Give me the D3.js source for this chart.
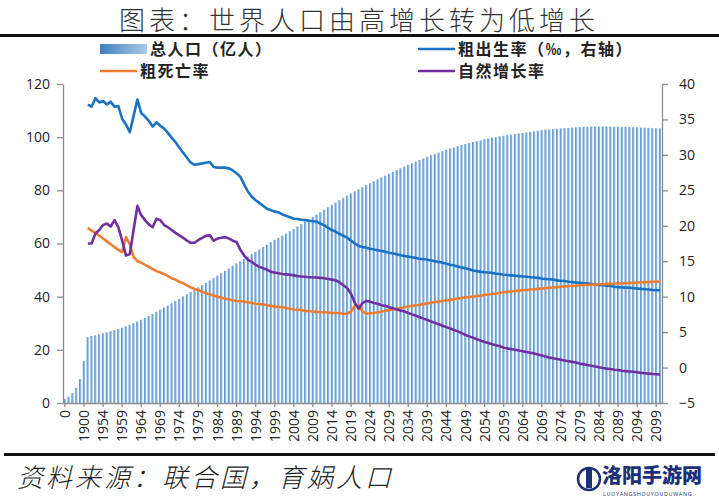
<!DOCTYPE html>
<html><head><meta charset="utf-8">
<script src="https://cdn.jsdelivr.net/npm/d3@7/dist/d3.min.js"></script>
<style>
html,body{margin:0;padding:0;background:#fff;}
svg{display:block;}
</style></head>
<body>
<svg id="c" width="719" height="500"></svg>
<script>
// ---------------- DATA ----------------
const earlyCategories = ["0","1000","1500","1700","1800","1900"];
const years = d3.range(1950, 2101).map(String);
const categories = earlyCategories.concat(years);

// 总人口（亿人）— one value per category
const population = [
  1.5, 2.4, 3.75, 5.7, 9.0, 15.8,
  24.8, 25.2, 25.5, 25.9, 26.3, 26.6, 27.0, 27.4, 27.8, 28.3,
  28.8, 29.4, 30.0, 30.6, 31.3, 32.0, 32.8, 33.5, 34.3, 35.1,
  35.9, 36.6, 37.5, 38.4, 39.2, 40.1, 40.9, 41.8, 42.6, 43.5,
  44.3, 45.2, 46.1, 47.0, 47.9, 48.8, 49.7, 50.6, 51.6, 52.5,
  53.3, 54.2, 55.1, 56.0, 56.9, 57.8, 58.7, 59.6, 60.5, 61.3,
  62.1, 62.9, 63.7, 64.6, 65.5, 66.4, 67.3, 68.2, 69.1, 70.0,
  70.9, 71.8, 72.7, 73.6, 74.5, 75.4, 76.3, 77.2, 78.0, 78.8,
  79.6, 80.4, 81.2, 82.0, 82.7, 83.4, 84.1, 84.8, 85.5, 86.2,
  86.9, 87.6, 88.3, 88.9, 89.6, 90.2, 90.8, 91.4, 92.0, 92.6,
  93.2, 93.7, 94.2, 94.7, 95.2, 95.7, 96.1, 96.6, 97.0, 97.4,
  97.8, 98.2, 98.5, 98.8, 99.2, 99.5, 99.8, 100.0, 100.3, 100.5,
  100.8, 101.0, 101.2, 101.4, 101.6, 101.8, 102.0, 102.2, 102.4, 102.6,
  102.8, 102.9, 103.1, 103.2, 103.3, 103.4, 103.5, 103.6, 103.7, 103.8,
  103.9, 103.95, 104.0, 104.0, 104.05, 104.05, 104.05, 104.0, 104.0, 103.95,
  103.9, 103.85, 103.8, 103.75, 103.7, 103.6, 103.55, 103.5, 103.4, 103.35,
  103.3
];

// 粗出生率（‰）1950–2100
const birthRate = [
  37.1, 36.8, 38.0, 37.4, 37.6, 37.1, 37.5, 36.8, 36.9, 35.1,
  34.3, 33.2, 35.5, 37.8, 35.9, 35.4, 34.8, 34.0, 34.6, 34.1,
  33.7, 33.1, 32.4, 31.8, 31.0, 30.3, 29.6, 28.9, 28.6, 28.7,
  28.8, 28.9, 29.0, 28.3, 28.2, 28.2, 28.2, 28.1, 27.8, 27.4,
  26.9, 25.8, 24.8, 24.1, 23.6, 23.2, 22.8, 22.4, 22.2, 22.0,
  21.9, 21.6, 21.4, 21.2, 21.0, 20.95, 20.85, 20.8, 20.7, 20.65,
  20.6, 20.3, 20.05, 19.7, 19.4, 19.15, 18.85, 18.6, 18.3, 17.9,
  17.5, 17.15, 17.0, 16.9, 16.75, 16.65, 16.55, 16.45, 16.35, 16.2,
  16.1, 16.0, 15.85, 15.75, 15.65, 15.55, 15.45, 15.35, 15.3, 15.2,
  15.1, 15.0, 14.9, 14.8, 14.65, 14.5, 14.4, 14.25, 14.1, 14.0,
  13.85, 13.7, 13.6, 13.5, 13.45, 13.4, 13.35, 13.25, 13.2, 13.1,
  13.05, 13.0, 12.95, 12.9, 12.85, 12.8, 12.75, 12.7, 12.65, 12.55,
  12.5, 12.45, 12.4, 12.3, 12.25, 12.2, 12.1, 12.05, 12.0, 11.95,
  11.9, 11.85, 11.8, 11.7, 11.65, 11.6, 11.55, 11.5, 11.4, 11.35,
  11.3, 11.28, 11.25, 11.2, 11.15, 11.1, 11.05, 11.0, 10.95, 10.9,
  10.9
];

// 粗死亡率（‰）1950–2100
const deathRate = [
  19.7, 19.3, 19.0, 18.6, 18.2, 17.8, 17.4, 17.0, 16.6, 16.3,
  18.4, 17.4, 15.6, 15.0, 14.8, 14.5, 14.2, 13.9, 13.6, 13.4,
  13.2, 12.9, 12.6, 12.4, 12.1, 11.9, 11.6, 11.3, 11.1, 10.9,
  10.7, 10.5, 10.3, 10.15, 10.0, 9.85, 9.7, 9.6, 9.5, 9.4,
  9.35, 9.3, 9.2, 9.1, 9.0, 8.95, 8.9, 8.8, 8.7, 8.6,
  8.55, 8.5, 8.4, 8.3, 8.2, 8.15, 8.1, 8.0, 7.95, 7.9,
  7.85, 7.8, 7.8, 7.75, 7.7, 7.7, 7.65, 7.6, 7.6, 7.9,
  8.7, 8.8, 7.9, 7.6, 7.65, 7.7, 7.8, 7.9, 8.0, 8.1,
  8.2, 8.3, 8.4, 8.5, 8.6, 8.7, 8.8, 8.85, 8.95, 9.05,
  9.15, 9.25, 9.3, 9.4, 9.5, 9.55, 9.65, 9.75, 9.8, 9.9,
  9.95, 10.0, 10.1, 10.15, 10.25, 10.3, 10.4, 10.45, 10.55, 10.6,
  10.7, 10.75, 10.8, 10.85, 10.9, 10.95, 11.0, 11.05, 11.1, 11.15,
  11.2, 11.25, 11.3, 11.35, 11.4, 11.45, 11.5, 11.5, 11.55, 11.6,
  11.65, 11.65, 11.7, 11.7, 11.75, 11.75, 11.8, 11.8, 11.85, 11.85,
  11.9, 11.9, 11.95, 11.95, 12.0, 12.0, 12.05, 12.05, 12.1, 12.1,
  12.15
];

// 自然增长率（‰）1950–2100
const growthRate = [
  17.5, 17.5, 18.9, 19.4, 20.1, 20.3, 19.9, 20.8, 19.8, 17.9,
  15.8, 16.0, 19.4, 22.8, 21.5, 20.8, 20.2, 19.8, 21.0, 20.8,
  20.1, 19.8, 19.4, 19.0, 18.65, 18.3, 17.9, 17.6, 17.6, 18.0,
  18.3, 18.6, 18.65, 17.9, 18.2, 18.3, 18.4, 18.2, 17.9, 17.7,
  16.6, 15.8, 15.2, 14.9, 14.5, 14.2, 14.0, 13.8, 13.5, 13.4,
  13.3, 13.2, 13.15, 13.1, 13.0, 12.9, 12.85, 12.8, 12.75, 12.7,
  12.7, 12.65, 12.6, 12.5, 12.4, 12.3, 12.0, 11.6, 11.2, 10.4,
  9.1, 8.3, 9.1, 9.4, 9.3, 9.1, 9.0, 8.8, 8.7, 8.5,
  8.35, 8.2, 8.05, 7.9, 7.7, 7.5, 7.3, 7.1, 6.9, 6.7,
  6.5, 6.3, 6.1, 5.9, 5.7, 5.5, 5.3, 5.1, 4.85, 4.6,
  4.4, 4.2, 4.0, 3.8, 3.6, 3.45, 3.3, 3.15, 3.0, 2.8,
  2.7, 2.6, 2.5, 2.4, 2.3, 2.2, 2.1, 2.0, 1.85, 1.7,
  1.55, 1.4, 1.3, 1.2, 1.1, 1.0, 0.9, 0.8, 0.7, 0.55,
  0.45, 0.35, 0.25, 0.15, 0.05, -0.05, -0.15, -0.2, -0.3, -0.35,
  -0.45, -0.5, -0.55, -0.6, -0.65, -0.75, -0.8, -0.85, -0.9, -0.95,
  -1.0
];

const leftTicks = [0, 20, 40, 60, 80, 100, 120];
const rightTicks = [-5, 0, 5, 10, 15, 20, 25, 30, 35, 40];

const title = "图表：世界人口由高增长转为低增长";
const source = "资料来源：联合国，育娲人口";
const legendItems = [
  {name: "总人口（亿人）", type: "bar"},
  {name: "粗出生率（‰，右轴）", type: "birth"},
  {name: "粗死亡率", type: "death"},
  {name: "自然增长率", type: "growth"}
];

// ---------------- DRAW ----------------
const svg = d3.select("#c");
const colors = {birth: "#1a73c2", death: "#ed7d31", growth: "#7030a0"};
const tickFont = "'Open Sans', 'Liberation Sans', sans-serif";
const cjk = "'Noto Sans CJK SC', sans-serif";

const plot = {left: 63, right: 662, top: 84, bottom: 403};

const x = d3.scaleBand().domain(categories).range([plot.left, plot.right]).padding(0);
const yL = d3.scaleLinear().domain([0, 120]).range([plot.bottom, plot.top]);
const yR = d3.scaleLinear().domain([-5, 40]).range([plot.bottom, plot.top]);

const defs = svg.append("defs");
const grad = defs.append("linearGradient").attr("id", "barGrad")
  .attr("x1", "0%").attr("x2", "100%").attr("y1", "0%").attr("y2", "0%");
grad.append("stop").attr("offset", "0%").attr("stop-color", "#4d8cc8");
grad.append("stop").attr("offset", "100%").attr("stop-color", "#a3c9ea");

const legGrad = defs.append("linearGradient").attr("id", "legGrad")
  .attr("x1", "0%").attr("x2", "100%");
legGrad.append("stop").attr("offset", "0%").attr("stop-color", "#3f7fbd");
legGrad.append("stop").attr("offset", "100%").attr("stop-color", "#a9cbe9");

// Title
svg.append("text").attr("x", 359).attr("y", 30).attr("text-anchor", "middle")
  .style("font-family", cjk).style("font-size", "26px").style("font-weight", 300)
  .style("letter-spacing", "4px").attr("fill", "#333").text(title);
svg.append("rect").attr("x", 0).attr("y", 34).attr("width", 719).attr("height", 3).attr("fill", "#111");

// Bars
const bw = x.bandwidth();
svg.append("g").selectAll("rect").data(categories).join("rect")
  .attr("x", d => x(d) + bw * 0.2)
  .attr("width", bw * 0.58)
  .attr("y", (d, i) => yL(population[i]))
  .attr("height", (d, i) => yL(0) - yL(population[i]))
  .attr("fill", "url(#barGrad)");

// Lines
const cx = d => x(d) + bw / 2;
function drawLine(values, color) {
  const line = d3.line().x((v, i) => cx(years[i])).y(v => yR(v));
  svg.append("path").datum(values).attr("d", line)
    .attr("fill", "none").attr("stroke", color).attr("stroke-width", 2.6)
    .attr("stroke-linejoin", "round");
}
drawLine(birthRate, colors.birth);
drawLine(deathRate, colors.death);
drawLine(growthRate, colors.growth);

// Axes
const axisColor = "#8c8c8c";
const xTickVals = categories.filter((d, i) => i % 5 === 0);
const gx = svg.append("g").attr("transform", `translate(0,${plot.bottom})`)
  .call(d3.axisBottom(x).tickValues(xTickVals).tickSize(4).tickSizeOuter(0).tickFormat(() => ""));

const gl = svg.append("g").attr("transform", `translate(${plot.left},0)`)
  .call(d3.axisLeft(yL).tickValues(leftTicks).tickSize(6).tickSizeOuter(0).tickPadding(7));
const gr = svg.append("g").attr("transform", `translate(${plot.right},0)`)
  .call(d3.axisRight(yR).tickValues(rightTicks).tickSize(6).tickSizeOuter(0).tickPadding(11));

[gx, gl, gr].forEach(g => {
  g.select(".domain").attr("stroke", axisColor).attr("stroke-width", 1.3);
  g.selectAll(".tick line").attr("stroke", axisColor).attr("stroke-width", 1.3);
  g.selectAll("text").style("font-family", tickFont).style("font-size", "14px").attr("fill", "#222");
});

// x tick labels (rotated)
const xl = svg.append("g").attr("class", "xlabels");
xTickVals.forEach(d => {
  xl.append("text")
    .attr("transform", `translate(${cx(d) + 5},${plot.bottom + 7}) rotate(-90)`)
    .attr("text-anchor", "end")
    .style("font-family", tickFont).style("font-size", "14px").attr("fill", "#222")
    .text(String(d));
});

// Legend
const legPos = [
  {x: 100, y: 49}, {x: 418, y: 49}, {x: 100, y: 71}, {x: 418, y: 71}
];
legendItems.forEach((it, i) => {
  const p = legPos[i];
  if (it.type === "bar") {
    svg.append("rect").attr("x", p.x).attr("y", p.y - 5).attr("width", 47).attr("height", 10)
      .attr("fill", "url(#legGrad)");
  } else {
    svg.append("line").attr("x1", p.x).attr("x2", p.x + 37).attr("y1", p.y).attr("y2", p.y)
      .attr("stroke", colors[it.type]).attr("stroke-width", 2.5);
  }
  svg.append("text").attr("x", it.type === "bar" ? p.x + 50 : p.x + 40).attr("y", p.y).attr("dy", "0.36em")
    .style("font-family", cjk).style("font-size", "16px").style("font-weight", 700)
    .style("letter-spacing", "1.5px").attr("fill", "#222").text(it.name);
});

// Bottom rule & source
svg.append("rect").attr("x", 4).attr("y", 453).attr("width", 711).attr("height", 3).attr("fill", "#111");
svg.append("text").attr("x", 17).attr("y", 487)
  .style("font-family", cjk).style("font-size", "26px").style("font-style", "italic").style("font-weight", 300)
  .style("letter-spacing", "3px").attr("fill", "#222").text(source);

// Watermark
const wm = svg.append("g");
wm.append("circle").attr("cx", 589).attr("cy", 479).attr("r", 11).attr("fill", "none")
  .attr("stroke", "#1b2f7a").attr("stroke-width", 2.5);
wm.append("rect").attr("x", 586).attr("y", 469).attr("width", 6).attr("height", 19).attr("fill", "#1b2f7a");
wm.append("text").attr("x", 602).attr("y", 483).style("font-family", cjk).style("font-size", "20px")
  .style("font-weight", 900).attr("fill", "#1b2f7a").text("洛阳手游网");
wm.append("text").attr("x", 603).attr("y", 496).style("font-family", tickFont).style("font-size", "5.5px")
  .style("letter-spacing", "0.6px").attr("fill", "#1b2f7a").text("LUOYANGSHOUYOUDUWANG");
</script>
</body></html>
